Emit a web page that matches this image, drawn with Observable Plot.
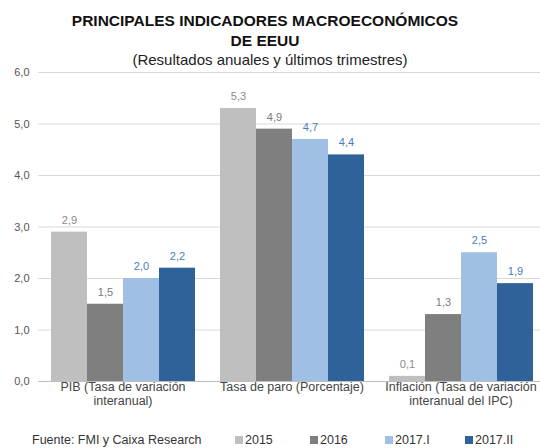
<!DOCTYPE html>
<html>
<head>
<meta charset="utf-8">
<script src="https://cdn.jsdelivr.net/npm/d3@7"></script>
<script src="https://cdn.jsdelivr.net/npm/@observablehq/plot@0.6"></script>
<style>
  html, body { margin: 0; padding: 0; background: #fff; }
  body { width: 540px; height: 448px; overflow: hidden; font-family: "Liberation Sans", Arial, sans-serif; }
  #title { height: 66px; position: relative; z-index: 1; text-align: center; color: #111; }
  #title div { position: absolute; left: 0; right: 0; line-height: 1; white-space: nowrap; }
  #title .t { font-weight: bold; font-size: 15.5px; left: -10px; }
  #title .s { font-size: 15px; color: #222; }
  #chart svg { display: block; background: transparent; }
  #footer { position: relative; height: 40px; font-size: 12.5px; color: #333; }
  #footer span { position: absolute; top: 25px; line-height: 14px; white-space: nowrap; }
  #footer i { display: inline-block; width: 8px; height: 8px; margin-right: 2px; vertical-align: 0px; }
</style>
</head>
<body>
<div id="title">
  <div class="t" style="top:13px">PRINCIPALES INDICADORES MACROECONÓMICOS</div>
  <div class="t" style="top:33px">DE EEUU</div>
  <div class="s" style="top:52px">(Resultados anuales y últimos trimestres)</div>
</div>
<div id="chart"></div>
<div id="footer"></div>
<script>
const categories = [
  "PIB (Tasa de variación\ninteranual)",
  "Tasa de paro (Porcentaje)",
  "Inflación (Tasa de variación\ninteranual del IPC)"
];
const series = ["2015", "2016", "2017.I", "2017.II"];
const v2015 = [2.9, 5.3, 0.1];
const v2016 = [1.5, 4.9, 1.3];
const v2017I = [2.0, 4.7, 2.5];
const v2017II = [2.2, 4.4, 1.9];
const yTicks = [0, 1, 2, 3, 4, 5, 6];
const sourceText = "Fuente: FMI y Caixa Research";

const colors = ["#bfbfbf", "#7f7f7f", "#9fc0e4", "#2f6299"];
const labelColors = ["#8a8a8a", "#7a7a7a", "#4a7bbd", "#4a7bbd"];

const allValues = [v2015, v2016, v2017I, v2017II];
const data = [];
categories.forEach((c, i) => {
  series.forEach((s, j) => {
    data.push({cat: c, series: s, value: allValues[j][i], lc: labelColors[j]});
  });
});

const fmt = v => d3.format(".1f")(v).replace(".", ",");

const chart = Plot.plot({
  width: 540,
  height: 342,
  marginTop: 6,
  marginBottom: 27,
  marginLeft: 37,
  marginRight: 0,
  style: {fontFamily: "Liberation Sans, Arial, sans-serif", fontSize: "11px", color: "#555", background: "transparent"},
  fx: {domain: categories, range: [37, 545], padding: 0, label: null, axis: null},
  x: {domain: series, paddingInner: 0, paddingOuter: 0.29, axis: null},
  y: {domain: [0, 6], label: null, axis: null},
  color: {domain: series, range: colors},
  marks: [
    Plot.gridY(yTicks, {stroke: "#d9d9d9", strokeOpacity: 1}),
    Plot.axisY(yTicks, {tickSize: 0, tickPadding: 9, tickFormat: fmt, label: null, fill: "#555", fontSize: 11}),
    Plot.axisFx({anchor: "bottom", tickSize: 0, tickPadding: 0, label: null, fill: "#444", fontSize: 12.5, lineHeight: 1.08, textAnchor: "middle"}),
    Plot.barY(data, {fx: "cat", x: "series", y: "value", fill: "series"}),
    Plot.ruleY([0], {stroke: "#bfbfbf"}),
    Plot.text(data, {fx: "cat", x: "series", y: "value", text: d => fmt(d.value), dy: -12, fill: "lc", fontSize: 11})
  ]
});
document.getElementById("chart").appendChild(chart);

const footer = document.getElementById("footer");
const src = document.createElement("span");
src.style.left = "32px";
src.textContent = sourceText;
footer.appendChild(src);
const legendX = [235, 310, 385, 465];
series.forEach((s, j) => {
  const sp = document.createElement("span");
  sp.style.left = legendX[j] + "px";
  sp.innerHTML = `<i style="background:${colors[j]}"></i>${s}`;
  footer.appendChild(sp);
});
</script>
</body>
</html>
